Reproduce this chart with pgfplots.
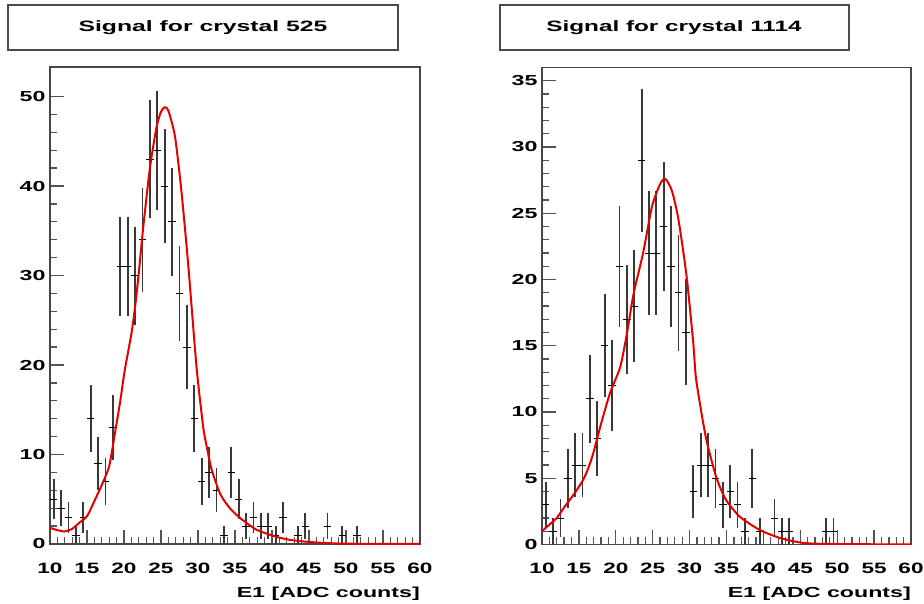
\documentclass[border=0pt]{standalone}
\usepackage{fontspec}
\setmainfont{Liberation Sans}
\usepackage{graphicx}
\usepackage{pgfplots}
\usepackage{pgfplotstable}
\pgfplotsset{compat=1.18}

\pgfplotstableread{
x y ex ey
10.5 5 0.5 2.236
11.5 4 0.5 2.000
12.5 3 0.5 1.732
13.5 1 0.5 1.000
14.5 3 0.5 1.732
15.5 14 0.5 3.742
16.5 9 0.5 3.000
17.5 7 0.5 2.646
18.5 13 0.5 3.606
19.5 31 0.5 5.568
20.5 31 0.5 5.568
21.5 30 0.5 5.477
22.5 34 0.5 5.831
23.5 43 0.5 6.557
24.5 44 0.5 6.633
25.5 40 0.5 6.325
26.5 36 0.5 6.000
27.5 28 0.5 5.292
28.5 22 0.5 4.690
29.5 14 0.5 3.742
30.5 7 0.5 2.646
31.5 8 0.5 2.828
32.5 6 0.5 2.449
33.5 1 0.5 1.000
34.5 8 0.5 2.828
35.5 5 0.5 2.236
36.5 2 0.5 1.414
37.5 3 0.5 1.732
38.5 2 0.5 1.414
39.5 2 0.5 1.414
40.5 1 0.5 1.000
41.5 3 0.5 1.732
43.5 1 0.5 1.000
44.5 2 0.5 1.414
47.5 2 0.5 1.414
49.5 1 0.5 1.000
51.5 1 0.5 1.000
}\leftdata

\pgfplotstableread{
x y ex ey
10.5 3 0.5 1.732
11.5 1 0.5 1.000
12.5 2 0.5 1.414
13.5 5 0.5 2.236
14.5 6 0.5 2.449
15.5 6 0.5 2.449
16.5 11 0.5 3.317
17.5 8 0.5 2.828
18.5 15 0.5 3.873
19.5 12 0.5 3.464
20.5 21 0.5 4.583
21.5 17 0.5 4.123
22.5 18 0.5 4.243
23.5 29 0.5 5.385
24.5 22 0.5 4.690
25.5 22 0.5 4.690
26.5 24 0.5 4.899
27.5 21 0.5 4.583
28.5 19 0.5 4.359
29.5 16 0.5 4.000
30.5 4 0.5 2.000
31.5 6 0.5 2.449
32.5 6 0.5 2.449
33.5 5 0.5 2.236
34.5 3 0.5 1.732
35.5 4 0.5 2.000
36.5 3 0.5 1.732
37.5 1 0.5 1.000
38.5 5 0.5 2.236
39.5 1 0.5 1.000
41.5 2 0.5 1.414
42.5 1 0.5 1.000
43.5 1 0.5 1.000
48.5 1 0.5 1.000
49.5 1 0.5 1.000
}\rightdata

\pgfplotsset{
  rootstyle/.style={
    scale only axis,
    xmin=10, xmax=60, ymin=0,
    axis line style={gray!55!black, line width=1.1pt},
    tick style={gray!65!black, line width=1.3pt},
    tick align=inside, tick pos=left,
    major tick length=14pt, minor tick length=7pt,
    xtick={10,15,...,60}, minor x tick num=4,
    xticklabel={\scalebox{1.5}[1]{\bfseries\pgfmathprintnumber[assume math mode=true]{\tick}}},
    yticklabel={\scalebox{1.6}[1]{\bfseries\pgfmathprintnumber[assume math mode=true]{\tick}}},
    xticklabel style={anchor=base, yshift=-29pt, font=\fontsize{15}{15}\selectfont},
    yticklabel style={anchor=east, xshift=-1pt, font=\fontsize{14.5}{14.5}\selectfont},
    xlabel style={at={(axis description cs:1,0)}, anchor=base east, yshift=-53pt, inner sep=0pt, font=\fontsize{14.5}{14.5}\selectfont},
  },
  errY/.style={draw=none, mark=none, error bars/.cd, y dir=both, y explicit, error mark=none,
    error bar style={draw=black!78, line width=1.8pt}},
  errX/.style={draw=none, mark=none, error bars/.cd, x dir=both, x explicit, error mark=none,
    error bar style={draw=black, line width=0.8pt}},
  fitcurve/.style={red!90!black, line width=2pt, smooth, tension=0.4},
}

\begin{document}
\begin{tikzpicture}
\path[use as bounding box] (0pt,0pt) rectangle (924pt,603pt);

\begin{axis}[rootstyle,
  at={(50pt,59pt)}, anchor=south west, width=370pt, height=477pt,
  ymax=53.3, ytick={0,10,...,50}, minor y tick num=4,
  xlabel={\scalebox{1.6}[1]{\bfseries E1 [ADC counts]}}]
\addplot[errY] table[x=x, y=y, y error=ey] {\leftdata};
\addplot[errX] table[x=x, y=y, x error=ex] {\leftdata};
\addplot[fitcurve] coordinates {
(10,1.8) (11,1.55) (12,1.4) (13,1.7) (14,2.4) (15,3.1) (16,4.8) (17,6.6) (18,8.7)
(18.8,12.5) (19.5,16) (20.1,19.4) (21,23.5) (21.5,26.5) (22,30.3) (22.6,35.4)
(23.5,42) (24.4,46.6) (25,48.3) (25.5,48.8) (26,48.4) (26.9,45.5) (27.8,39.1)
(28.7,31) (29.8,19.8) (30.7,13.1) (31.2,10.8) (31.85,8.3) (33,5.6) (34.3,4)
(35.7,2.9) (37.9,1.6) (40.6,0.8) (42.5,0.45) (44.7,0.25) (47,0.12) (49.2,0.05)
(52,0.02) (60,0)
};
\end{axis}

\begin{axis}[rootstyle,
  at={(542pt,58.5pt)}, anchor=south west, width=369pt, height=477pt,
  ymax=36, ytick={0,5,...,35}, minor y tick num=4,
  xlabel={\scalebox{1.6}[1]{\bfseries E1 [ADC counts]}}]
\addplot[errY] table[x=x, y=y, y error=ey] {\rightdata};
\addplot[errX] table[x=x, y=y, x error=ex] {\rightdata};
\addplot[fitcurve] coordinates {
(10,1.0) (11,1.5) (12,2.0) (13,2.8) (13.8,3.4) (14.7,4.1) (15.6,4.9) (16.3,5.8)
(16.95,6.9) (17.9,8.9) (19.2,11.4) (20.6,13.4) (21.5,15.9) (22.4,18.9) (23.7,22.0)
(24.9,25.5) (26.0,27.2) (26.7,27.6) (27.6,26.7) (28.5,24.5) (29.6,20.2) (30.5,15.2)
(30.9,12.4) (32.2,8.1) (33.6,5.1) (34.9,3.4) (36.8,2.1) (39.5,1.1) (42.2,0.5)
(45,0.15) (48,0.05) (60,0)
};
\end{axis}

\draw[gray!60!black, line width=1.2pt, fill=white] (8pt,553pt) rectangle (398pt,598pt);
\node at (203pt,575.5pt) {\fontsize{15}{15}\selectfont\scalebox{1.65}[1]{\bfseries Signal for crystal 525}};
\draw[gray!60!black, line width=1.2pt, fill=white] (500pt,553pt) rectangle (849pt,598pt);
\node at (674pt,575.5pt) {\fontsize{15}{15}\selectfont\scalebox{1.62}[1]{\bfseries Signal for crystal 1114}};
\end{tikzpicture}
\end{document}
